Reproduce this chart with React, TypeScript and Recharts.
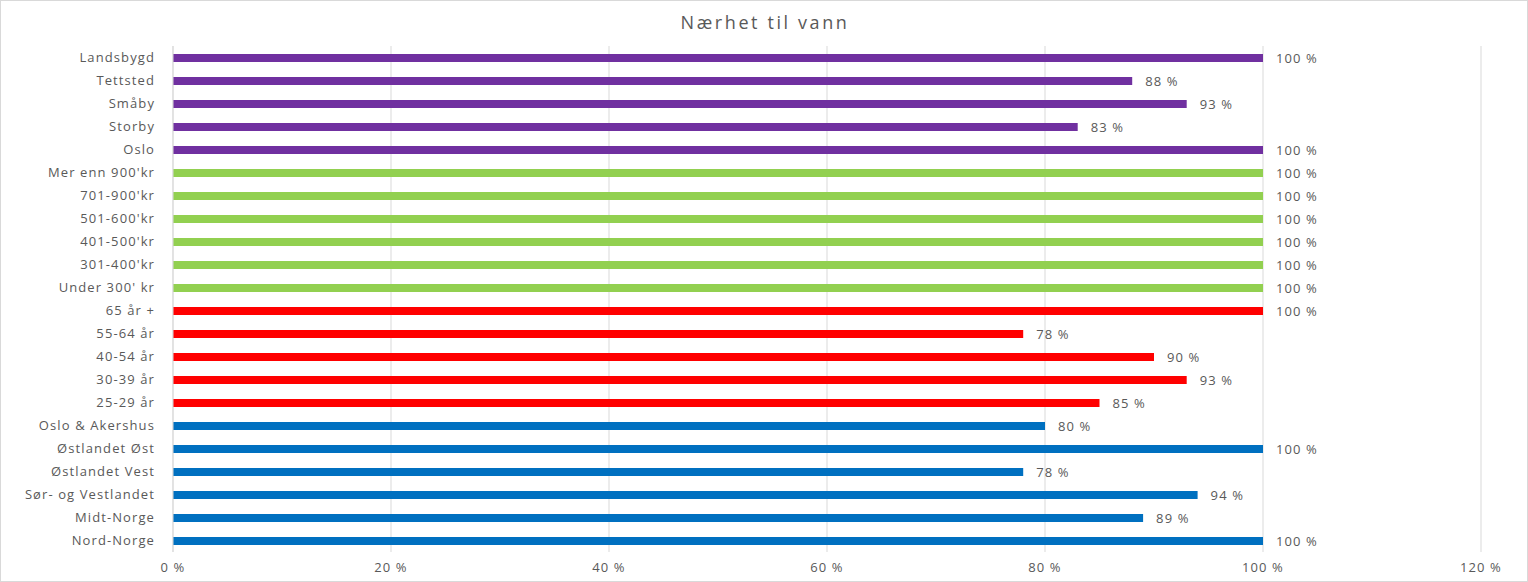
import { Bar, BarChart, CartesianGrid, Cell, LabelList, XAxis, YAxis } from "recharts";

const categories = [
  "Landsbygd",
  "Tettsted",
  "Småby",
  "Storby",
  "Oslo",
  "Mer enn 900'kr",
  "701-900'kr",
  "501-600'kr",
  "401-500'kr",
  "301-400'kr",
  "Under 300' kr",
  "65 år +",
  "55-64 år",
  "40-54 år",
  "30-39 år",
  "25-29 år",
  "Oslo & Akershus",
  "Østlandet Øst",
  "Østlandet Vest",
  "Sør- og Vestlandet",
  "Midt-Norge",
  "Nord-Norge",
];

const values = [1, 0.88, 0.93, 0.83, 1, 1, 1, 1, 1, 1, 1, 1, 0.78, 0.9, 0.93, 0.85, 0.8, 1, 0.78, 0.94, 0.89, 1];

const groups = [
  "omr", "omr", "omr", "omr", "omr",
  "inntekt", "inntekt", "inntekt", "inntekt", "inntekt", "inntekt",
  "alder", "alder", "alder", "alder", "alder",
  "region", "region", "region", "region", "region", "region",
];

const xTicks = [0, 0.2, 0.4, 0.6, 0.8, 1, 1.2];

const groupColors: Record<string, string> = {
  omr: "#7030A0",
  inntekt: "#92D050",
  alder: "#FF0000",
  region: "#0070C0",
};

const data = categories.map((name, i) => ({ name, value: values[i], group: groups[i] }));

const pct = (v: number) => `${Math.round(v * 100)} %`;

const font = "'Open Sans', sans-serif";
const textColor = "#595959";
const tickStyle = { fill: textColor, fontSize: 13, fontFamily: font, letterSpacing: 1.1 };

export default function App() {
  return (
    <div
      style={{
        position: "absolute",
        left: 0,
        top: 0,
        width: 1528,
        height: 582,
        background: "#fff",
        boxSizing: "border-box",
        border: "1px solid #d9d9d9",
        fontFamily: font,
      }}
    >
      <div
        style={{
          position: "absolute",
          top: 9,
          left: 0,
          width: 1528,
          textAlign: "center",
          fontSize: 18,
          letterSpacing: 2.6,
          color: textColor,
        }}
      >
        Nærhet til vann
      </div>
      <div style={{ position: "absolute", left: -1, top: -1 }}>
        <BarChart
          width={1528}
          height={582}
          data={data}
          layout="vertical"
          margin={{ top: 46, right: 47, bottom: 0, left: 0 }}
          barSize={8}
        >
          <CartesianGrid horizontal={false} vertical stroke="#d9d9d9" />
          <XAxis
            type="number"
            domain={[0, 1.2]}
            ticks={xTicks}
            tickFormatter={pct}
            axisLine={false}
            tickLine={false}
            height={30}
            tick={tickStyle}
            tickMargin={5}
          />
          <YAxis
            type="category"
            dataKey="name"
            width={173}
            axisLine={{ stroke: "#d9d9d9" }}
            tickLine={false}
            tickMargin={12}
            interval={0}
            tick={tickStyle}
          />
          <Bar dataKey="value" isAnimationActive={false}>
            {data.map((d) => (
              <Cell key={d.name} fill={groupColors[d.group]} />
            ))}
            <LabelList
              dataKey="value"
              position="right"
              offset={13}
              formatter={(v: any) => pct(Number(v))}
              style={tickStyle}
            />
          </Bar>
        </BarChart>
      </div>
    </div>
  );
}
